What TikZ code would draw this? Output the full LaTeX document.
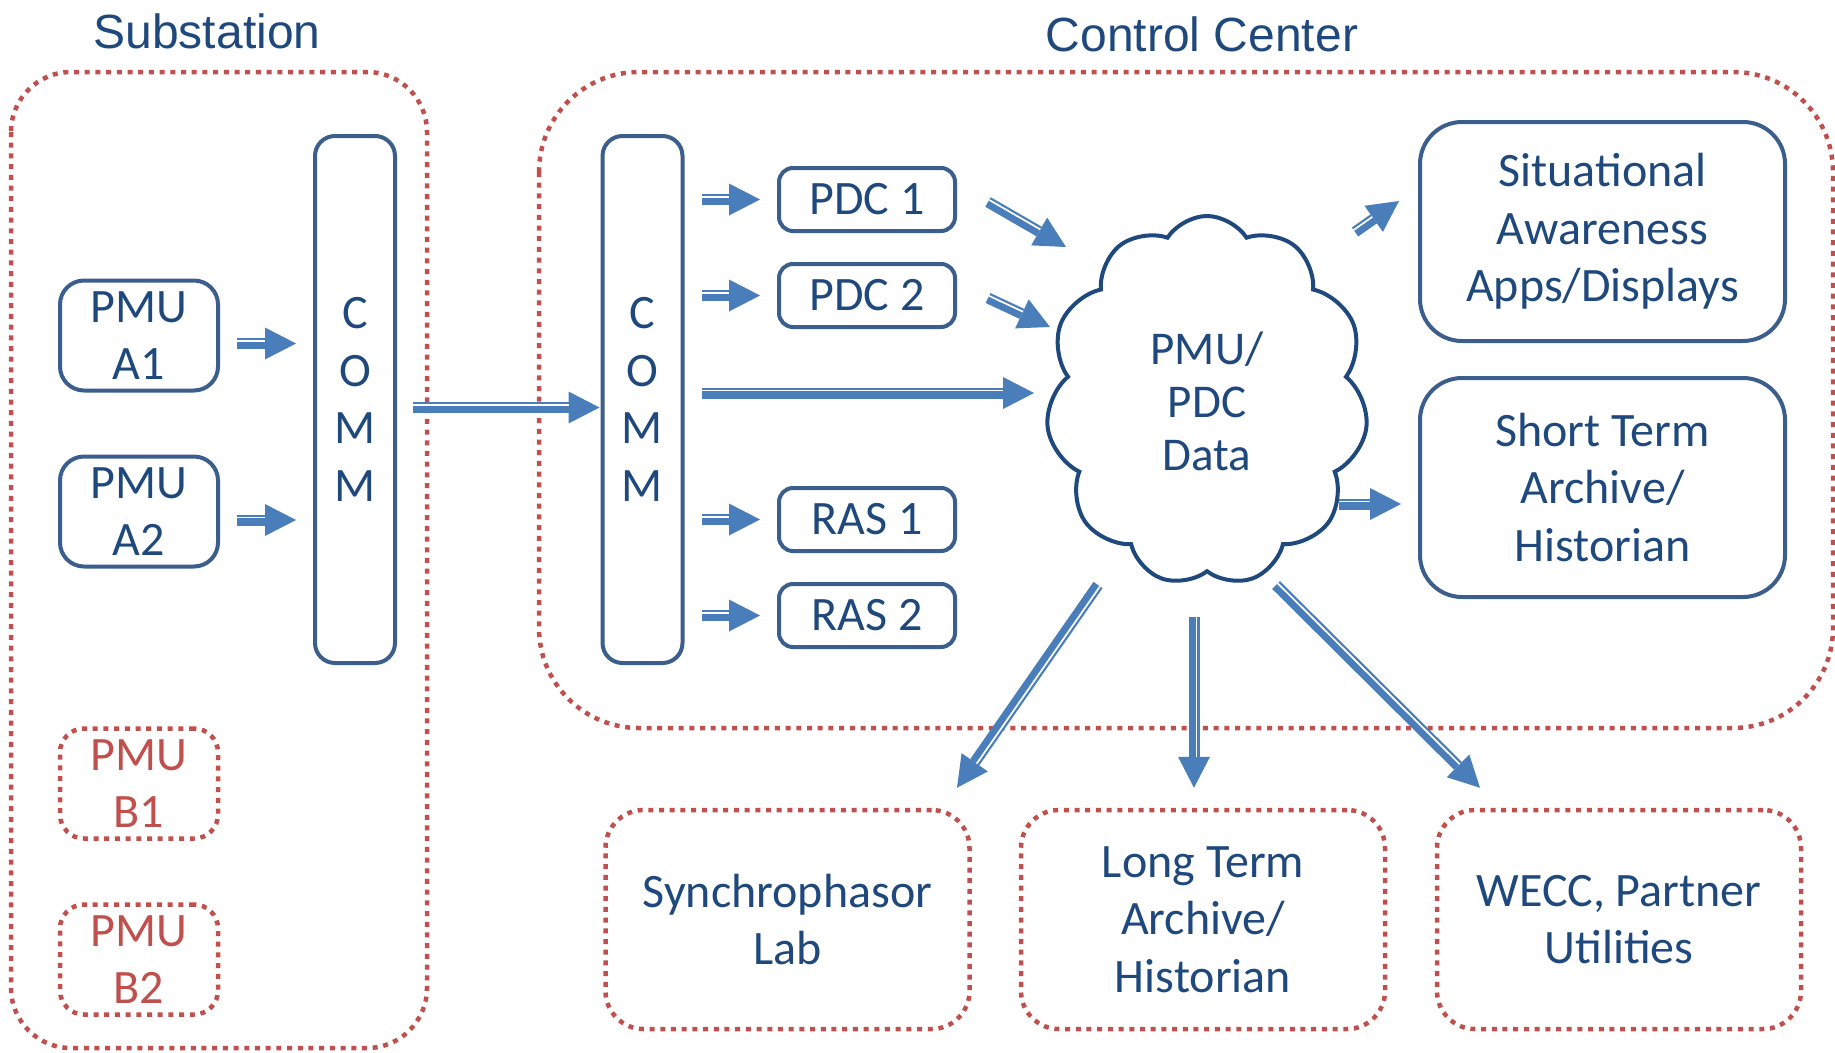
\documentclass[tikz,border=0pt]{standalone}
\usepackage{fontspec}
\setmainfont{Carlito}
\newfontfamily\headfont{Liberation Sans}
\usetikzlibrary{arrows.meta,calc,shapes.symbols}

\definecolor{navytext}{HTML}{1F497D}
\definecolor{boxline}{HTML}{3B5E8C}
\definecolor{flowblue}{HTML}{4A7EBB}
\definecolor{spareRed}{HTML}{C0504D}

\tikzset{
	flow/.style={draw=flowblue, line width=11pt, -{Triangle[length=31pt,width=32pt,line width=0pt]}},
	flowgap/.style={draw=white, line width=1.7pt, shorten >=31pt},
}
\newcommand{\flowarrow}[2]{%
	\coordinate (fs) at (#1);
	\coordinate (fe) at (#2);
	\draw[flow] (fs) -- (fe);
	\draw[flowgap] ($(fs)!2.4pt!90:(fe)$) -- ($(fe)!2.4pt!-90:(fs)$);
}

\begin{document}
\begin{tikzpicture}[x=1pt, y=-1pt,
	every node/.style={text=navytext, font=\fontsize{48}{57.5}\selectfont, align=center, inner sep=0pt},
	unit/.style={draw=boxline, line width=4pt, rounded corners=24pt},
	spare/.style={draw=spareRed, text=spareRed, line width=4.5pt, dash pattern=on 5pt off 5.7pt, rounded corners=24pt},
	zone/.style={draw=spareRed, line width=4.5pt, dash pattern=on 5pt off 5.7pt},
	title/.style={font=\headfont\fontsize{48}{56}\selectfont}]
			
			\useasboundingbox (0,0) rectangle (1835,1052);
			
			\draw[zone, rounded corners=60pt] (11,72) rectangle (427,1048);
			\draw[zone, rounded corners=100pt] (539,72) rectangle (1833,728);
			
			\node[title] (subTitle) at (207,31) {Substation};
			\node[title] (ccTitle) at (1202,34) {Control Center};
			
			\node[unit, minimum width=158pt, minimum height=110pt] (pmuA1) at (139,335.5) {PMU\\A1};
			\node[unit, minimum width=158pt, minimum height=110pt] (pmuA2) at (139,511.5) {PMU\\A2};
			\node[spare, minimum width=158pt, minimum height=110pt] (pmuB1) at (139,783.5) {PMU\\B1};
			\node[spare, minimum width=158pt, minimum height=110pt] (pmuB2) at (139,959.5) {PMU\\B2};
			
			\node[unit, rounded corners=20pt, minimum width=80pt, minimum height=527pt] (commS) at (355,399.5) {C\\O\\M\\M};
			\node[unit, rounded corners=20pt, minimum width=80pt, minimum height=527pt] (commC) at (642.5,399.5) {C\\O\\M\\M};
			
			\node[unit, rounded corners=14pt, minimum width=176pt, minimum height=63pt] (pdc1) at (867,199.5) {PDC 1};
			\node[unit, rounded corners=14pt, minimum width=176pt, minimum height=63pt] (pdc2) at (867,295.5) {PDC 2};
			\node[unit, rounded corners=14pt, minimum width=176pt, minimum height=63pt] (ras1) at (867,519.5) {RAS 1};
			\node[unit, rounded corners=14pt, minimum width=176pt, minimum height=63pt] (ras2) at (867,615.5) {RAS 2};
			
			\node[cloud, cloud puffs=11, cloud puff arc=115, draw=navytext, line width=4pt, minimum width=322pt, minimum height=370pt, font=\fontsize{47}{53}\selectfont] (data) at (1207,401) {PMU/\\PDC\\Data};
			
			\node[unit, rounded corners=42pt, minimum width=365pt, minimum height=219pt] (sa) at (1602.5,231.5) {Situational\\Awareness\\Apps/Displays};
			\node[unit, rounded corners=42pt, minimum width=365pt, minimum height=219pt] (st) at (1602.5,487.5) {Short Term\\Archive/\\Historian};
			
			\node[spare, rounded corners=38pt, minimum width=364pt, minimum height=219pt, text=navytext] (lab) at (787.5,919.5) {Synchrophasor\\Lab};
			\node[spare, rounded corners=38pt, minimum width=364pt, minimum height=219pt, text=navytext] (lta) at (1203,919.5) {Long Term\\Archive/\\Historian};
			\node[spare, rounded corners=38pt, minimum width=364pt, minimum height=219pt, text=navytext] (wecc) at (1619,919.5) {WECC, Partner\\Utilities};
			
			\flowarrow{$(pmuA1.east)+(17,8)$}{$(pmuA1.east -| commS.west)+(-17,8)$}
			\flowarrow{$(pmuA2.east)+(17,8.5)$}{$(pmuA2.east -| commS.west)+(-17,8.5)$}
			\flowarrow{$(commS.east)+(16,8)$}{$(commC.west)+(-1,8)$}
			
			\flowarrow{$(pdc1.west -| commC.east)+(17,0)$}{$(pdc1.west)+(-17,0)$}
			\flowarrow{$(pdc2.west -| commC.east)+(17,0)$}{$(pdc2.west)+(-17,0)$}
			\flowarrow{$(ras1.west -| commC.east)+(17,0)$}{$(ras1.west)+(-17,0)$}
			\flowarrow{$(ras2.west -| commC.east)+(17,0)$}{$(ras2.west)+(-17,0)$}
			\flowarrow{$(commC.east)+(17,-6.5)$}{$(data.center)+(-173,-8)$}
			
			\flowarrow{$(pdc1.east)+(31,2.5)$}{$(data.center)+(-141,-154)$}
			\flowarrow{$(pdc2.east)+(31,2.5)$}{$(data.center)+(-157,-74)$}
			
			\flowarrow{$(data.center)+(148,-169)$}{$(sa.west)+(-19,-30.5)$}
			\flowarrow{$(data.center)+(132,103)$}{$(st.west)+(-17,16.5)$}
			
			\flowarrow{$(data.center)+(-109,184)$}{$(lab.north)+(169.5,-20)$}
			\flowarrow{$(data.center)+(-13,216)$}{$(lta.north)+(-9,-20)$}
			\flowarrow{$(data.center)+(69,184)$}{$(wecc.north)+(-139,-20)$}
			
			\end{tikzpicture}
\end{document}
